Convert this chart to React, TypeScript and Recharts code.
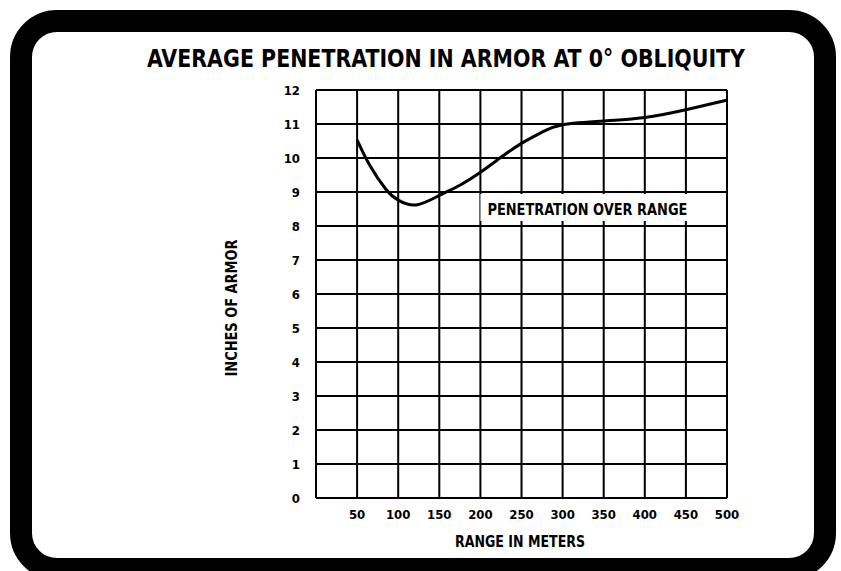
import React from 'react';
import { LineChart, Line, XAxis, YAxis, CartesianGrid, ReferenceArea, Label } from 'recharts';

const rangeMeters = [50, 65, 85, 100, 122, 150, 175, 200, 225, 250, 275, 300, 350, 400, 450, 500];
const penetrationInches = [10.53, 9.8, 9.08, 8.76, 8.62, 8.9, 9.2, 9.58, 10.02, 10.43, 10.76, 10.98, 11.09, 11.19, 11.42, 11.7];
const xTicks = [0, 50, 100, 150, 200, 250, 300, 350, 400, 450, 500];
const yTicks = [0, 1, 2, 3, 4, 5, 6, 7, 8, 9, 10, 11, 12];
const titleText = 'AVERAGE PENETRATION IN ARMOR AT 0° OBLIQUITY';
const yTitleText = 'INCHES OF ARMOR';
const xTitleText = 'RANGE IN METERS';
const seriesLabelText = 'PENETRATION OVER RANGE';

const data = rangeMeters.map((r, i) => ({ range: r, inches: penetrationInches[i] }));

const FONT = "'DejaVu Sans Condensed', 'Liberation Sans Narrow', 'DejaVu Sans', sans-serif";

const SeriesLabel = (props: any) => {
  const vb = props.viewBox || {};
  return (
    <text
      x={vb.x + 7}
      y={vb.y + 21}
      fontFamily={FONT}
      fontWeight="bold"
      fontSize={16}
      fill="#000"
      textLength={200}
      lengthAdjust="spacingAndGlyphs"
    >
      {seriesLabelText}
    </text>
  );
};

export default function App() {
  const tickStyle = { fontFamily: FONT, fontWeight: 'bold', fontSize: 13, fill: '#000' } as any;
  return (
    <div style={{ position: 'fixed', left: 0, top: 0, width: 841, height: 571, overflow: 'hidden', background: '#fff' }}>
      <LineChart width={841} height={571} data={data} margin={{ top: 90, right: 114, bottom: 43, left: 276 }}>
        <CartesianGrid stroke="#000" strokeWidth={2} strokeOpacity={1} />
        <XAxis
          dataKey="range"
          type="number"
          domain={[0, 500]}
          ticks={xTicks}
          interval={0}
          tickFormatter={(v: number) => (v === 0 ? '' : String(v))}
          axisLine={false}
          tickLine={false}
          tickSize={6}
          tickMargin={6}
          height={30}
          tick={tickStyle}
        />
        <YAxis
          type="number"
          domain={[0, 12]}
          ticks={yTicks}
          interval={0}
          axisLine={false}
          tickLine={false}
          tickSize={6}
          tickMargin={10}
          width={40}
          tick={tickStyle}
        />
        <ReferenceArea x1={200} x2={456} y1={8.15} y2={8.94} fill="#fff" fillOpacity={1} stroke="none" ifOverflow="visible">
          <Label content={SeriesLabel} />
        </ReferenceArea>
        <Line
          type="natural"
          dataKey="inches"
          stroke="#000"
          strokeWidth={3}
          dot={false}
          activeDot={false}
          isAnimationActive={false}
        />
      </LineChart>
      <svg width={841} height={571} style={{ position: 'absolute', left: 0, top: 0, pointerEvents: 'none' }}>
        <rect x={21} y={21} width={804} height={548} rx={36} ry={36} fill="none" stroke="#000" strokeWidth={22} />
        <text
          x={446}
          y={67}
          textAnchor="middle"
          fontFamily={FONT}
          fontWeight="bold"
          fontSize={25}
          fill="#000"
          textLength={598}
          lengthAdjust="spacingAndGlyphs"
        >
          {titleText}
        </text>
        <text
          transform="translate(237,308) rotate(-90)"
          textAnchor="middle"
          fontFamily={FONT}
          fontWeight="bold"
          fontSize={16}
          fill="#000"
          textLength={137}
          lengthAdjust="spacingAndGlyphs"
        >
          {yTitleText}
        </text>
        <text
          x={520}
          y={547}
          textAnchor="middle"
          fontFamily={FONT}
          fontWeight="bold"
          fontSize={16}
          fill="#000"
          textLength={130}
          lengthAdjust="spacingAndGlyphs"
        >
          {xTitleText}
        </text>
      </svg>
    </div>
  );
}
